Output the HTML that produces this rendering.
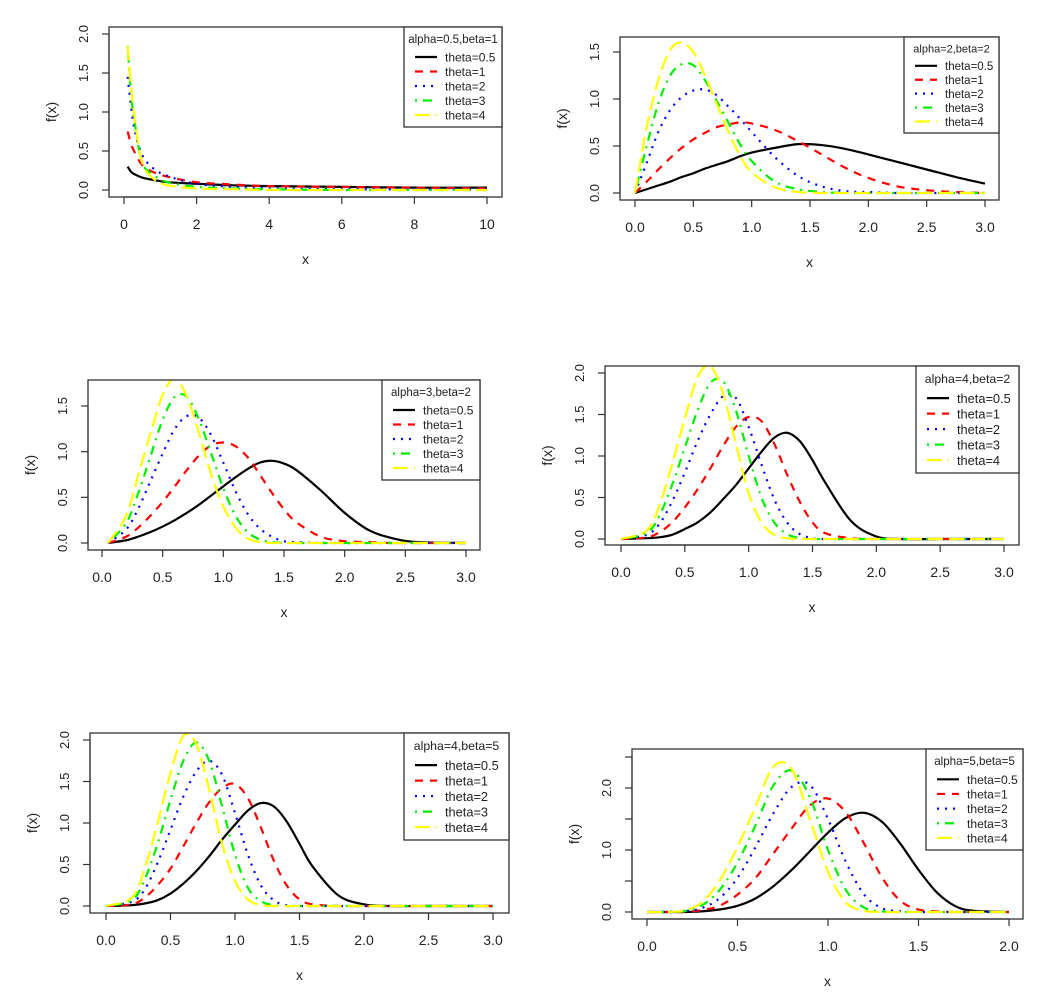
<!DOCTYPE html>
<html><head><meta charset="utf-8">
<style>
html,body{margin:0;padding:0;background:#fff;}
svg{display:block;font-family:"Liberation Sans",Arial,sans-serif;}
</style></head>
<body>
<svg id="chart" width="1063" height="1005" viewBox="0 0 1063 1005" xmlns="http://www.w3.org/2000/svg"></svg>
<script>
// ---------- DATA ----------
const seriesLabels = ["theta=0.5","theta=1","theta=2","theta=3","theta=4"];
const panelTitles = ["alpha=0.5,beta=1","alpha=2,beta=2","alpha=3,beta=2","alpha=4,beta=2","alpha=4,beta=5","alpha=5,beta=5"];

const p1X = [0.1,0.2,0.3,0.5,0.8,1.2,2,3,4,6,8,10];
const p1T05 = [0.3,0.23,0.2,0.16,0.13,0.1,0.08,0.06,0.05,0.04,0.03,0.03];
const p1T1  = [0.75,0.58,0.48,0.32,0.23,0.17,0.1,0.07,0.05,0.04,0.03,0.02];
const p1T2  = [1.45,1.05,0.75,0.45,0.28,0.18,0.08,0.04,0.02,0.01,0.01,0.01];
const p1T3  = [1.85,1.2,0.85,0.35,0.2,0.1,0.04,0.02,0.01,0,0,0];
const p1T4  = [1.85,1.3,0.9,0.35,0.15,0.06,0.02,0.01,0,0,0,0];

const p2X = [0,0.1,0.2,0.3,0.4,0.5,0.6,0.7,0.8,0.9,1.0,1.2,1.4,1.6,1.8,2.0,2.25,2.5,2.75,3.0];
const p2T05 = [0,0.04,0.08,0.12,0.17,0.21,0.26,0.3,0.34,0.39,0.43,0.48,0.52,0.51,0.47,0.41,0.33,0.25,0.17,0.1];
const p2T1  = [0,0.12,0.25,0.37,0.48,0.57,0.64,0.7,0.73,0.75,0.74,0.67,0.55,0.41,0.27,0.16,0.07,0.03,0.01,0];
const p2T2  = [0,0.32,0.65,0.88,1.02,1.09,1.1,1.04,0.92,0.79,0.65,0.38,0.18,0.07,0.02,0.01,0,0,0,0];
const p2T3  = [0,0.5,0.95,1.25,1.37,1.36,1.2,0.98,0.75,0.52,0.34,0.12,0.04,0.01,0,0,0,0,0,0];
const p2T4  = [0,0.7,1.2,1.52,1.6,1.5,1.25,0.95,0.65,0.4,0.22,0.06,0.01,0,0,0,0,0,0,0];

const p3X = [0.05,0.2,0.3,0.4,0.5,0.6,0.7,0.8,0.9,1.0,1.1,1.2,1.3,1.4,1.5,1.6,1.8,2.0,2.2,2.4,2.6,3.0];
const p3T05 = [0,0.03,0.07,0.12,0.18,0.25,0.33,0.42,0.52,0.62,0.72,0.81,0.88,0.9,0.87,0.8,0.58,0.33,0.14,0.05,0.01,0];
const p3T1  = [0,0.07,0.17,0.3,0.45,0.62,0.8,0.96,1.07,1.1,1.06,0.94,0.75,0.55,0.37,0.23,0.07,0.02,0.01,0,0,0];
const p3T2  = [0,0.15,0.38,0.68,0.98,1.25,1.39,1.37,1.18,0.88,0.57,0.32,0.16,0.07,0.02,0.01,0,0,0,0,0,0];
const p3T3  = [0,0.22,0.55,0.95,1.35,1.6,1.6,1.35,0.98,0.6,0.3,0.12,0.04,0.01,0,0,0,0,0,0,0,0];
const p3T4  = [0,0.3,0.75,1.2,1.62,1.8,1.6,1.2,0.75,0.4,0.17,0.05,0.01,0,0,0,0,0,0,0,0,0];

const p4X = [0,0.2,0.3,0.4,0.5,0.6,0.7,0.8,0.9,1.0,1.1,1.2,1.3,1.4,1.5,1.6,1.8,2.0,2.2,2.5,3.0];
const p4T05 = [0,0.01,0.02,0.05,0.12,0.2,0.32,0.48,0.65,0.85,1.05,1.22,1.28,1.18,0.95,0.68,0.22,0.03,0,0,0];
const p4T1  = [0,0.02,0.08,0.2,0.38,0.6,0.85,1.12,1.35,1.47,1.42,1.15,0.78,0.45,0.2,0.07,0.01,0,0,0,0];
const p4T2  = [0,0.05,0.18,0.45,0.8,1.18,1.5,1.72,1.7,1.35,0.9,0.48,0.2,0.06,0.01,0,0,0,0,0,0];
const p4T3  = [0,0.07,0.28,0.65,1.1,1.55,1.88,1.9,1.55,1.0,0.5,0.2,0.06,0.01,0,0,0,0,0,0,0];
const p4T4  = [0,0.1,0.4,0.9,1.45,1.95,2.08,1.75,1.15,0.55,0.2,0.05,0.01,0,0,0,0,0,0,0,0];

const p5X = [0,0.2,0.3,0.4,0.5,0.6,0.7,0.8,0.9,1.0,1.1,1.2,1.3,1.4,1.5,1.6,1.8,2.0,2.2,2.5,3.0];
const p5T05 = [0,0.01,0.03,0.07,0.15,0.27,0.42,0.6,0.8,0.98,1.15,1.24,1.2,1.02,0.75,0.48,0.13,0.02,0,0,0];
const p5T1  = [0,0.02,0.1,0.25,0.45,0.72,1.0,1.25,1.42,1.47,1.3,0.95,0.55,0.25,0.08,0.02,0,0,0,0,0];
const p5T2  = [0,0.05,0.2,0.52,0.92,1.32,1.62,1.75,1.58,1.12,0.62,0.25,0.07,0.01,0,0,0,0,0,0,0];
const p5T3  = [0,0.07,0.32,0.75,1.28,1.75,1.97,1.75,1.2,0.62,0.22,0.06,0.01,0,0,0,0,0,0,0,0];
const p5T4  = [0,0.1,0.45,1.0,1.6,2.05,1.95,1.4,0.75,0.3,0.08,0.01,0,0,0,0,0,0,0,0,0];

const p6X = [0,0.1,0.2,0.3,0.4,0.5,0.6,0.7,0.8,0.9,1.0,1.1,1.2,1.3,1.4,1.5,1.6,1.7,1.8,2.0];
const p6T05 = [0,0,0,0.01,0.04,0.1,0.22,0.42,0.68,0.98,1.28,1.52,1.6,1.45,1.1,0.68,0.32,0.1,0.02,0];
const p6T1  = [0,0,0,0.03,0.1,0.28,0.55,0.95,1.35,1.72,1.83,1.6,1.1,0.55,0.18,0.04,0.01,0,0,0];
const p6T2  = [0,0,0.01,0.06,0.22,0.55,1.05,1.6,2.02,2.05,1.5,0.8,0.28,0.06,0.01,0,0,0,0,0];
const p6T3  = [0,0,0.01,0.1,0.35,0.8,1.4,2.05,2.28,1.85,1.0,0.35,0.07,0.01,0,0,0,0,0,0];
const p6T4  = [0,0,0.02,0.15,0.5,1.05,1.7,2.35,2.3,1.5,0.65,0.15,0.02,0,0,0,0,0,0,0];

const p1XTicks = [0,2,4,6,8,10];
const p1YTicks = [0,0.5,1,1.5,2];
const p2XTicks = [0,0.5,1,1.5,2,2.5,3];
const p2YTicks = [0,0.5,1,1.5];
const p4YTicks = [0,0.5,1,1.5,2];
const p6XTicks = [0,0.5,1,1.5,2];
const p6YTicks = [0,0.5,1,1.5,2,2.5];
const p6YLabels = ["0.0","","1.0","","2.0",""];

// ---------- LAYOUT ----------
const colors = ["#000000","#ff0000","#0000ff","#00ee00","#ffff00"];
const dashes = ["", "8,7", "2,6", "2,6,9,6", "15,6"];
const panels = [
 {box:[109,27,502,197], xr:[124,487,0,10], yr:[190,34,0,2], xs:p1X, ys:[p1T05,p1T1,p1T2,p1T3,p1T4], xt:p1XTicks, yt:p1YTicks, leg:[404,27,502,127], dec:0},
 {box:[620,37,999,200], xr:[635,985,0,3], yr:[193,52,0,1.5], xs:p2X, ys:[p2T05,p2T1,p2T2,p2T3,p2T4], xt:p2XTicks, yt:p2YTicks, leg:[904,37,999,133], dec:1},
 {box:[88,380,480,550], xr:[102,466,0,3], yr:[543,406,0,1.5], xs:p3X, ys:[p3T05,p3T1,p3T2,p3T3,p3T4], xt:p2XTicks, yt:p2YTicks, leg:[382,380,480,480], dec:1},
 {box:[605,366,1019,545], xr:[621,1004,0,3], yr:[539,373,0,2], xs:p4X, ys:[p4T05,p4T1,p4T2,p4T3,p4T4], xt:p2XTicks, yt:p4YTicks, leg:[916,366,1019,473], dec:1},
 {box:[90,733,509,913], xr:[106,493,0,3], yr:[906,740,0,2], xs:p5X, ys:[p5T05,p5T1,p5T2,p5T3,p5T4], xt:p2XTicks, yt:p4YTicks, leg:[404,733,509,840], dec:1},
 {box:[632,749,1023,919], xr:[647,1009,0,2], yr:[912,788,0,2], xs:p6X, ys:[p6T05,p6T1,p6T2,p6T3,p6T4], xt:p6XTicks, yt:p6YTicks, ylab:p6YLabels, leg:[926,749,1023,850], dec:1}
];

const NS = "http://www.w3.org/2000/svg";
const svg = document.getElementById("chart");
function mk(tag, attrs, parent){
  const e = document.createElementNS(NS, tag);
  for (const k in attrs) e.setAttribute(k, attrs[k]);
  (parent||svg).appendChild(e);
  return e;
}
function smoothPath(pts){
  let d = "M"+pts[0][0].toFixed(2)+","+pts[0][1].toFixed(2);
  for (let i=0;i<pts.length-1;i++){
    const p0=pts[Math.max(0,i-1)], p1=pts[i], p2=pts[i+1], p3=pts[Math.min(pts.length-1,i+2)];
    const c1=[p1[0]+(p2[0]-p0[0])/6, p1[1]+(p2[1]-p0[1])/6];
    const c2=[p2[0]-(p3[0]-p1[0])/6, p2[1]-(p3[1]-p1[1])/6];
    d += " C"+c1[0].toFixed(2)+","+c1[1].toFixed(2)+" "+c2[0].toFixed(2)+","+c2[1].toFixed(2)+" "+p2[0].toFixed(2)+","+p2[1].toFixed(2);
  }
  return d;
}

panels.forEach((P, pi) => {
  const [bx0,by0,bx1,by1] = P.box;
  const sx = v => P.xr[0] + (v - P.xr[2])/(P.xr[3]-P.xr[2])*(P.xr[1]-P.xr[0]);
  const sy = v => P.yr[0] + (v - P.yr[2])/(P.yr[3]-P.yr[2])*(P.yr[1]-P.yr[0]);
  const g = mk("g", {});
  
  

  const cp = mk("clipPath", {id:"clip"+pi}, g);
  mk("rect", {x:bx0, y:by0, width:bx1-bx0, height:by1-by0}, cp);

  // curves
  const cg = mk("g", {"clip-path":"url(#clip"+pi+")"}, g);
  P.ys.forEach((vals, si) => {
    const pts = P.xs.map((x,i)=>[sx(x), Math.min(sy(vals[i]), sy(0)+0.5)]);
    const path = mk("path", {d:smoothPath(pts), fill:"none", stroke:colors[si], "stroke-width":2.2, "stroke-dasharray":dashes[si]||"none"}, cg);
    
    
  });

  // box
  const box = mk("rect", {x:bx0, y:by0, width:bx1-bx0, height:by1-by0, fill:"none", stroke:"#333", "stroke-width":1.3}, g);
  
  

  // x axis
  const xa = mk("g", {}, g);
  
  
  const xt = P.xt;
  mk("line", {x1:sx(xt[0]), y1:by1, x2:sx(xt[xt.length-1]), y2:by1, stroke:"#333", "stroke-width":1.2}, xa);
  xt.forEach(v => {
    mk("line", {x1:sx(v), y1:by1, x2:sx(v), y2:by1+7, stroke:"#333", "stroke-width":1.2}, xa);
    const t = mk("text", {x:sx(v), y:by1+32, "text-anchor":"middle", "font-size":14, fill:"#222"}, xa);
    t.textContent = P.dec ? v.toFixed(1) : String(v);
    
    
  });
  const xtitle = mk("text", {x:(bx0+bx1)/2, y:by1+67, "text-anchor":"middle", "font-size":14, fill:"#222"}, g);
  xtitle.textContent = "x";
  
  

  // y axis
  const ya = mk("g", {}, g);
  
  
  const yt = P.yt;
  mk("line", {x1:bx0, y1:sy(yt[0]), x2:bx0, y2:sy(yt[yt.length-1]), stroke:"#333", "stroke-width":1.2}, ya);
  yt.forEach((v,i) => {
    mk("line", {x1:bx0-7, y1:sy(v), x2:bx0, y2:sy(v), stroke:"#333", "stroke-width":1.2}, ya);
    const lab = P.ylab ? P.ylab[i] : v.toFixed(1);
    if (lab) {
      const tx = bx0-21, ty = sy(v);
      const t = mk("text", {x:tx, y:ty, "text-anchor":"middle", "font-size":13, fill:"#222", transform:"rotate(-90 "+tx+" "+ty+")"}, ya);
      t.textContent = lab;
      
      
    }
  });
  const ytx = bx0-53, yty = (by0+by1)/2;
  const ytitle = mk("text", {x:ytx, y:yty, "text-anchor":"middle", "font-size":14, fill:"#222", transform:"rotate(-90 "+ytx+" "+yty+")"}, g);
  ytitle.textContent = "f(x)";
  
  

  // legend
  const [lx0,ly0,lx1,ly1] = P.leg;
  const sc = (ly1-ly0)/100;
  const lg = mk("g", {}, g);
  
  
  mk("rect", {x:lx0, y:ly0, width:lx1-lx0, height:ly1-ly0, fill:"#fff", stroke:"#333", "stroke-width":1.3}, lg);
  const title = mk("text", {x:(lx0+lx1)/2, y:ly0+16*sc, "text-anchor":"middle", "font-size":(11.5*sc).toFixed(1), fill:"#222"}, lg);
  title.textContent = panelTitles[pi];
  
  
  seriesLabels.forEach((lab, si) => {
    const cy = ly0 + (30 + si*14.5)*sc;
    const e = mk("g", {}, lg);
    
    
    mk("line", {x1:lx0+11, y1:cy, x2:lx0+33, y2:cy, stroke:colors[si], "stroke-width":2.2, "stroke-dasharray":dashes[si]||"none"}, e);
    const t = mk("text", {x:lx0+41, y:cy+4.5*sc, "font-size":(12*sc).toFixed(1), fill:"#222"}, e);
    t.textContent = lab;
  });
});
</script>
</body></html>
